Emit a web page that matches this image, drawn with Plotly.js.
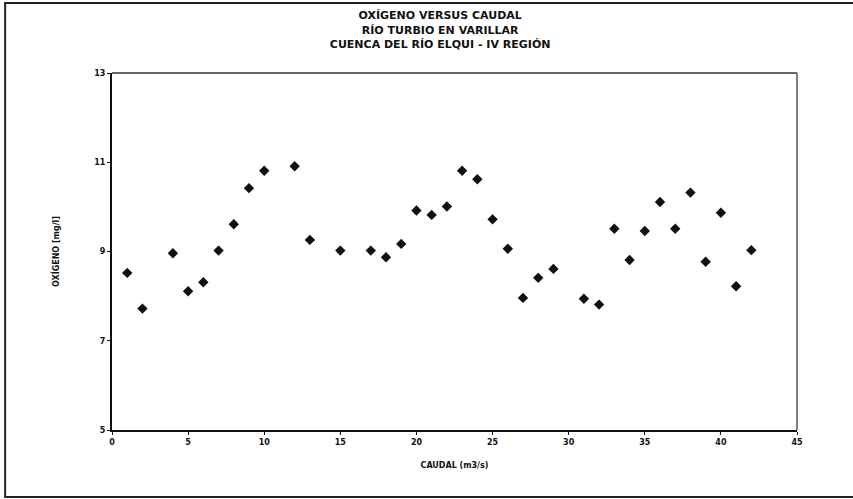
<!DOCTYPE html>
<html>
<head>
<meta charset="utf-8">
<script src="https://cdn.plot.ly/plotly-3.0.1.min.js"></script>
<style>html,body{margin:0;padding:0;background:#fff;}#chart{width:853px;height:499px;}</style>
</head>
<body>
<div id="chart"></div>
<script>
const caudal = [1, 2, 4, 5, 6, 7, 8, 9, 10, 12, 13, 15, 17, 18, 19, 20, 21, 22, 23, 24, 25, 26, 27, 28, 29, 31, 32, 33, 34, 35, 36, 37, 38, 39, 40, 41, 42];
const oxigeno = [8.52, 7.72, 8.96, 8.11, 8.31, 9.02, 9.61, 10.42, 10.81, 10.91, 9.26, 9.02, 9.02, 8.87, 9.17, 9.92, 9.82, 10.01, 10.81, 10.62, 9.72, 9.06, 7.96, 8.41, 8.61, 7.94, 7.81, 9.51, 8.81, 9.46, 10.11, 9.51, 10.32, 8.77, 9.87, 8.22, 9.03];
const xTicks = [0, 5, 10, 15, 20, 25, 30, 35, 40, 45];
const yTicks = [5, 7, 9, 11, 13];
const titleLines = ["OXÍGENO VERSUS CAUDAL", "RÍO TURBIO EN VARILLAR", "CUENCA DEL RÍO ELQUI - IV REGIÓN"];

const fontFam = '"DejaVu Sans", "Liberation Sans", Arial, sans-serif';

const trace = {
  x: caudal, y: oxigeno, type: 'scatter', mode: 'markers',
  marker: {symbol: 'diamond', size: 8, color: '#111'},
  hoverinfo: 'x+y'
};

const layout = {
  width: 853, height: 499,
  margin: {l: 112, r: 56, t: 73, b: 69},
  paper_bgcolor: '#fff', plot_bgcolor: '#fff',
  showlegend: false,
  title: {
    text: titleLines.map(s => '<b>' + s + '</b>').join('<br>'),
    font: {family: fontFam, size: 11, color: '#111'},
    x: 0.516, xref: 'container', xanchor: 'center',
    y: 0.961, yref: 'container', yanchor: 'top'
  },
  xaxis: {
    range: [0, 45], tickvals: xTicks, ticktext: xTicks.map(v => '<b>' + v + '</b>'),
    showgrid: false, zeroline: false,
    showline: true, linecolor: '#111', linewidth: 2,
    ticks: 'outside', ticklen: 3, tickwidth: 1, tickcolor: '#111',
    tickfont: {family: fontFam, size: 8, color: '#111'},
    title: {text: '<b>CAUDAL (m3/s)</b>', font: {family: fontFam, size: 8, color: '#111'}, standoff: 17}
  },
  yaxis: {
    range: [5, 13], tickvals: yTicks, ticktext: yTicks.map(v => '<b>' + v + '</b>'),
    showgrid: false, zeroline: false,
    showline: true, linecolor: '#111', linewidth: 2,
    ticks: 'outside', ticklen: 3, tickwidth: 1, tickcolor: '#111',
    tickfont: {family: fontFam, size: 8, color: '#111'},
    title: {text: '<b>OXÍGENO [mg/l]</b>', font: {family: fontFam, size: 8, color: '#111'}, standoff: 33}
  },
  shapes: [
    {type: 'line', xref: 'paper', yref: 'paper', x0: 0, x1: 1, y0: 1, y1: 1, line: {color: '#333', width: 1.5}},
    {type: 'line', xref: 'paper', yref: 'paper', x0: 1, x1: 1, y0: 0, y1: 1, line: {color: '#555', width: 1.5}},
    {type: 'rect', xref: 'paper', yref: 'paper', x0: -0.156, x1: 1.09, y0: -0.188, y1: 1.196, line: {color: '#222', width: 2}}
  ]
};

Plotly.newPlot('chart', [trace], layout, {displayModeBar: false, staticPlot: true});
</script>
</body>
</html>
